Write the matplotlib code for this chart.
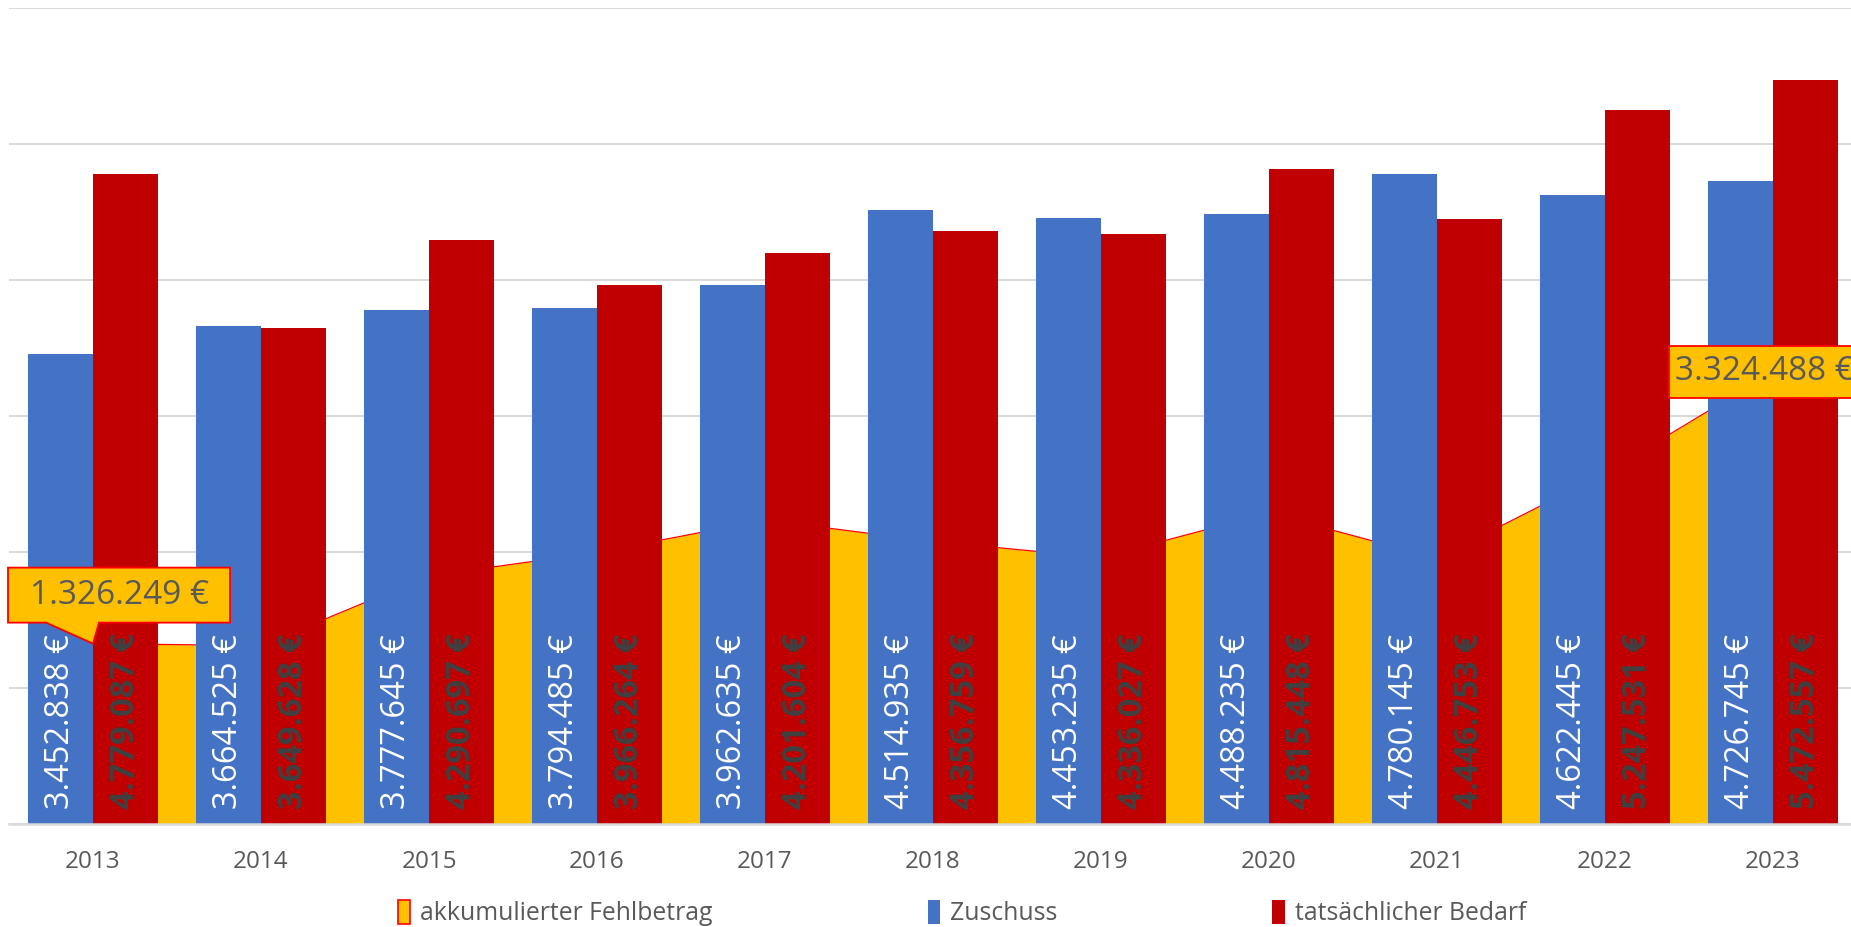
import matplotlib
matplotlib.use("Agg")
import matplotlib.pyplot as plt
import matplotlib.transforms as mtransforms
from matplotlib.patches import Polygon, Patch
import numpy as np

# Daten
jahre = ["2013", "2014", "2015", "2016", "2017", "2018", "2019", "2020", "2021", "2022", "2023"]
zuschuss = [3452838, 3664525, 3777645, 3794485, 3962635, 4514935, 4453235, 4488235, 4780145, 4622445, 4726745]
bedarf = [4779087, 3649628, 4290697, 3966264, 4201604, 4356759, 4336027, 4815448, 4446753, 5247531, 5472557]
fehlbetrag = [1326249, 1311352, 1824404, 1996183, 2235152, 2076976, 1959768, 2286981, 1953589, 2578675, 3324488]

BLAU = "#4472C4"
ROT = "#C00000"
GELB = "#FFC000"
GRAU = "#595959"

plt.rcParams["font.family"] = ["Open Sans", "DejaVu Sans"]


def euro(v):
    # deutsches Tausendertrennzeichen
    return f"{v:,}".replace(",", ".") + " €"


W, H = 1851, 927
fig = plt.figure(figsize=(W / 100, H / 100), dpi=100)
# Plotfläche reicht rechts etwas über den Rand hinaus (wie im Original)
ax = fig.add_axes([9 / W, 103 / H, 1848 / W, 816 / H])

x = np.arange(len(jahre))
bw = 0.384

# Fläche: akkumulierter Fehlbetrag
ax.fill_between(x, fehlbetrag, 0, color=GELB, zorder=1, linewidth=0)
ax.plot(x, fehlbetrag, color="#FF0000", lw=0.9, zorder=1.1)

b1 = ax.bar(x - bw / 2, zuschuss, bw, color=BLAU, zorder=2)
b2 = ax.bar(x + bw / 2, bedarf, bw, color=ROT, zorder=2)

# Beschriftungen innen an der Basis
for xi, v in zip(x, zuschuss):
    ax.annotate(euro(v), (xi - bw / 2, 0), xytext=(0, 11), textcoords="offset points",
                rotation=90, ha="center", va="bottom", color="white", fontsize=23.5, zorder=4)
for xi, v in zip(x, bedarf):
    ax.annotate(euro(v), (xi + bw / 2, 0), xytext=(0, 11), textcoords="offset points",
                rotation=90, ha="center", va="bottom", color="#404040", fontsize=23.5,
                fontweight="bold", zorder=4)

ax.set_xlim(-0.5, len(jahre) - 0.5)
ax.set_ylim(0, 6000000)
ax.set_yticks(np.arange(0, 6000001, 1000000))
ax.yaxis.grid(True, color="#D9D9D9", lw=1.4)
ax.set_axisbelow(True)
ax.tick_params(axis="y", left=False, labelleft=False)
ax.set_xticks(x)
ax.set_xticklabels(jahre, fontsize=17.5, color=GRAU)
ax.tick_params(axis="x", length=0, pad=19)
for s in ["top", "right", "left"]:
    ax.spines[s].set_visible(False)
ax.spines["bottom"].set_color("#D9D9D9")
ax.spines["bottom"].set_linewidth(1.8)
ax.spines["bottom"].set_zorder(3)


# Callout-Box relativ zum Datenpunkt (Angaben in Pixel)
def callout(xi, yi, verts_px, text_px, text):
    trans = fig.dpi_scale_trans + mtransforms.ScaledTranslation(xi, yi, ax.transData)
    verts = [(a / 100, b / 100) for a, b in verts_px]
    ax.add_patch(Polygon(verts, closed=True, fc=GELB, ec="#FF0000", lw=1.3,
                         transform=trans, zorder=5, clip_on=False))
    ax.text(text_px[0] / 100, text_px[1] / 100, text, transform=trans, ha="center",
            va="center", fontsize=24, color=GRAU, zorder=6, clip_on=False)


callout(x[0], fehlbetrag[0],
        [(-85, 21), (-47, 21), (0, 0), (6, 21), (137, 21), (137, 76), (-85, 76)],
        (26, 48), euro(fehlbetrag[0]))
callout(x[-1], fehlbetrag[-1],
        [(-104, -26), (118, -26), (118, 26), (-104, 26)],
        (-9, 0), euro(fehlbetrag[-1]))

# Legende
handles = [Patch(fc=GELB, ec="#FF0000", lw=1.2), Patch(fc=BLAU), Patch(fc=ROT)]
labels = ["akkumulierter Fehlbetrag", "Zuschuss", "tatsächlicher Bedarf"]
fig.legend(handles, labels, ncol=3, loc="center", bbox_to_anchor=(962 / W, 14 / H),
           frameon=False, fontsize=17.8, labelcolor=GRAU, columnspacing=8.7,
           handlelength=0.5, handleheight=1.1, handletextpad=0.4)

fig.savefig("out.png", dpi=100)
